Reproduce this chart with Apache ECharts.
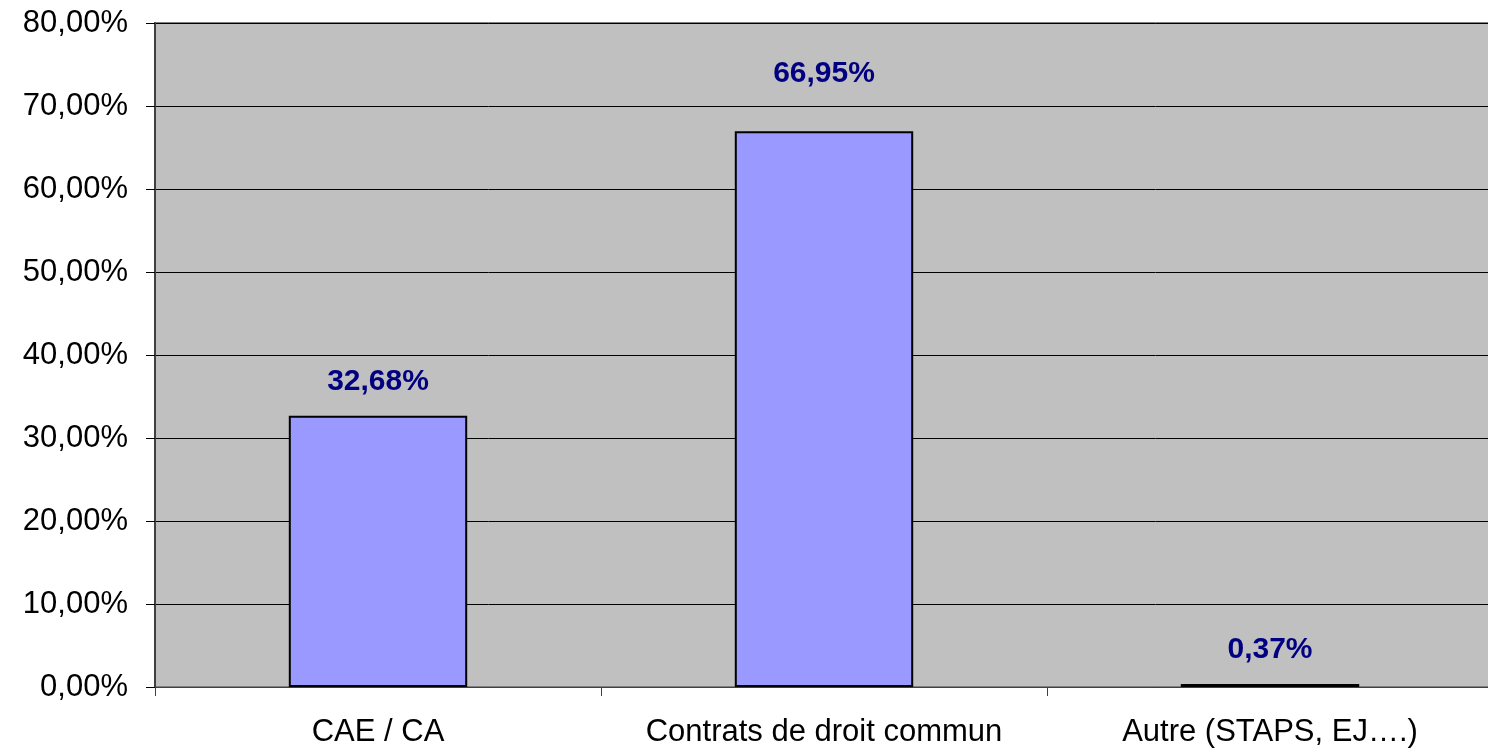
<!DOCTYPE html>
<html><head><meta charset="utf-8">
<script src="https://cdn.jsdelivr.net/npm/echarts@6/dist/echarts.min.js"></script>
<style>html,body{margin:0;padding:0;background:#fff}#c{width:1488px;height:752px}</style>
</head><body><div id="c"></div>
<script>
const categories = ['CAE / CA', 'Contrats de droit commun', 'Autre (STAPS, EJ….)'];
const values = [32.68, 66.95, 0.37];
const yMin = 0, yMax = 80, yInterval = 10;

const fmt = v => v.toFixed(2).replace('.', ',') + '%';
const chart = echarts.init(document.getElementById('c'));
chart.setOption({
  animation: false,
  textStyle: { fontFamily: 'Liberation Sans, Arial, sans-serif' },
  grid: { left: 155, right: -5, top: 23, bottom: 65, show: true, backgroundColor: '#C0C0C0',
          borderColor: '#808080', borderWidth: 2, outerBoundsMode: 'none', containLabel: false },
  xAxis: {
    type: 'category', data: categories,
    axisLine: { lineStyle: { color: '#404040', width: 1 } },
    axisTick: { show: true, interval: 0, length: 9, lineStyle: { color: '#404040' } },
    axisLabel: { color: '#000', fontSize: 31, margin: 30, interval: 0, hideOverlap: false }
  },
  yAxis: {
    type: 'value', min: yMin, max: yMax, interval: yInterval,
    axisLine: { show: true, lineStyle: { color: '#404040', width: 2 } },
    axisTick: { show: true, length: 9, lineStyle: { color: '#000' } },
    splitLine: { lineStyle: { color: '#000', width: 1 } },
    axisLabel: { color: '#000', fontSize: 31, margin: 27, formatter: v => fmt(v) }
  },
  series: [{
    type: 'bar',
    data: values.map((v, i) => i === 1 ? { value: v, label: { distance: 43 } } : v),
    barWidth: '40%',
    itemStyle: { color: '#9999FF', borderColor: '#000', borderWidth: 2 },
    label: { show: true, position: 'top', distance: 19, color: '#000080', fontWeight: 'bold', fontSize: 30,
             formatter: p => fmt(p.value) }
  }]
});
</script></body></html>
